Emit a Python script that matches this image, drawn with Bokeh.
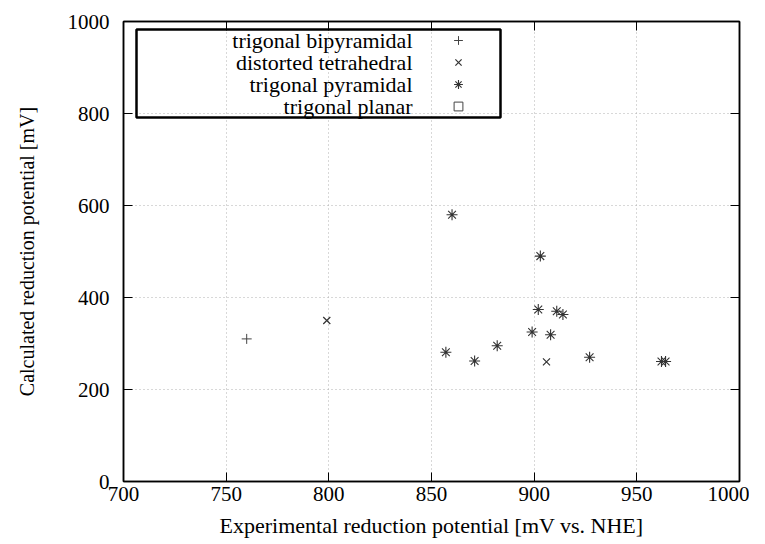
from bokeh.plotting import figure
from bokeh.models import (Range1d, LinearAxis, Legend, LegendItem, BoxAnnotation,
                          Label, FixedTicker)
from bokeh.embed import file_html
from bokeh.resources import INLINE

# ---- data ----
bipy_x = [760]
bipy_y = [310]
tetra_x = [799, 906]
tetra_y = [350, 260]
pyr_x = [860, 903, 902, 911, 914, 899, 908, 882, 857, 871, 927, 962, 964]
pyr_y = [580, 490, 374, 370, 363, 325, 319, 295, 281, 262, 270, 261, 261]
# no trigonal planar points in the chart (NaN placeholder keeps the legend marker)
planar_x = [float("nan")]
planar_y = [float("nan")]

series_names = ["trigonal bipyramidal", "distorted tetrahedral",
                "trigonal pyramidal", "trigonal planar"]
x_ticks = [700, 750, 800, 850, 900, 950, 1000]
y_ticks = [0, 200, 400, 600, 800, 1000]

FONT = "Liberation Serif"

p = figure(width=749, height=544, output_backend="svg", toolbar_location=None,
           x_range=Range1d(700, 1000), y_range=Range1d(0, 1000),
           min_border_left=123, min_border_right=10, min_border_top=21,
           min_border_bottom=63)
p.background_fill_color = "white"
p.border_fill_color = "white"
p.outline_line_color = "black"
p.outline_line_width = 1.5

# axes styling
for ax in (p.xaxis[0], p.yaxis[0]):
    ax.major_tick_in = 9
    ax.major_tick_out = 0
    ax.minor_tick_in = 0
    ax.minor_tick_out = 0
    ax.axis_line_color = "black"
    ax.axis_line_width = 1.5
    ax.major_tick_line_color = "black"
    ax.major_tick_line_width = 1
    ax.major_label_text_font = FONT
    ax.major_label_text_font_size = "21px"
    ax.major_label_text_color = "black"
    ax.axis_label_text_font = FONT
    ax.axis_label_text_font_style = "normal"
    ax.axis_label_text_color = "black"

p.xaxis[0].ticker = FixedTicker(ticks=x_ticks)
p.yaxis[0].ticker = FixedTicker(ticks=y_ticks)
p.xaxis[0].axis_label = "Experimental reduction potential [mV vs. NHE]"
p.yaxis[0].axis_label = "Calculated reduction potential [mV]"
p.xaxis[0].axis_label_text_font_size = "22px"
p.yaxis[0].axis_label_text_font_size = "20px"
p.xaxis[0].major_label_standoff = 5
p.xaxis[0].axis_label_standoff = 9
p.yaxis[0].major_label_standoff = 14
p.yaxis[0].axis_label_standoff = 27

# mirrored ticks on top and right
for loc in ("above", "right"):
    ax = LinearAxis(ticker=FixedTicker(ticks=x_ticks if loc == "above" else y_ticks))
    ax.major_tick_in = 9
    ax.major_tick_out = 0
    ax.minor_tick_in = 0
    ax.minor_tick_out = 0
    ax.axis_line_color = "black"
    ax.axis_line_width = 1.5
    ax.major_label_text_font_size = "0px"
    ax.major_label_text_alpha = 0
    ax.major_label_standoff = 0
    p.add_layout(ax, loc)

# grid
p.xgrid.ticker = FixedTicker(ticks=x_ticks)
p.ygrid.ticker = FixedTicker(ticks=y_ticks)
for g in (p.xgrid[0], p.ygrid[0]):
    g.grid_line_color = "#b0b0b0"
    g.grid_line_dash = "1 3"
    g.grid_line_width = 1

# data
r1 = p.scatter(bipy_x, bipy_y, marker="cross", size=10, line_color="#444444",
               line_width=1)
r2 = p.scatter(tetra_x, tetra_y, marker="x", size=10, line_color="#333333",
               line_width=1.2)
r3 = p.scatter(pyr_x, pyr_y, marker="asterisk", size=11, line_color="#333333",
               line_width=1.1)
r4 = p.scatter(planar_x, planar_y, marker="square", size=7, line_color="#444444",
               fill_color=None, line_width=1)

# legend (markers only; texts as labels, right aligned like gnuplot)
items = [LegendItem(label="", renderers=[r]) for r in (r1, r2, r3, r4)]
leg = Legend(items=items, location=(322, 364), padding=0, margin=0, spacing=0,
             glyph_width=26, glyph_height=22, label_width=0, label_height=22,
             label_standoff=0, label_text_font_size="1px",
             border_line_alpha=0, background_fill_alpha=0)
p.add_layout(leg, "center")

box = BoxAnnotation(left=13, right=377, top=452, bottom=364,
                    left_units="screen", right_units="screen",
                    top_units="screen", bottom_units="screen",
                    fill_alpha=0, line_color="black", line_alpha=1,
                    line_width=2.5)
p.add_layout(box)

row_y = [441, 419, 397, 375]
for name, yy in zip(series_names, row_y):
    p.add_layout(Label(x=289, y=yy, x_units="screen", y_units="screen",
                       text=name, text_align="right", text_baseline="middle",
                       text_font=FONT, text_font_size="22px",
                       text_color="black"))

open("out.html", "w").write(file_html(p, INLINE))
